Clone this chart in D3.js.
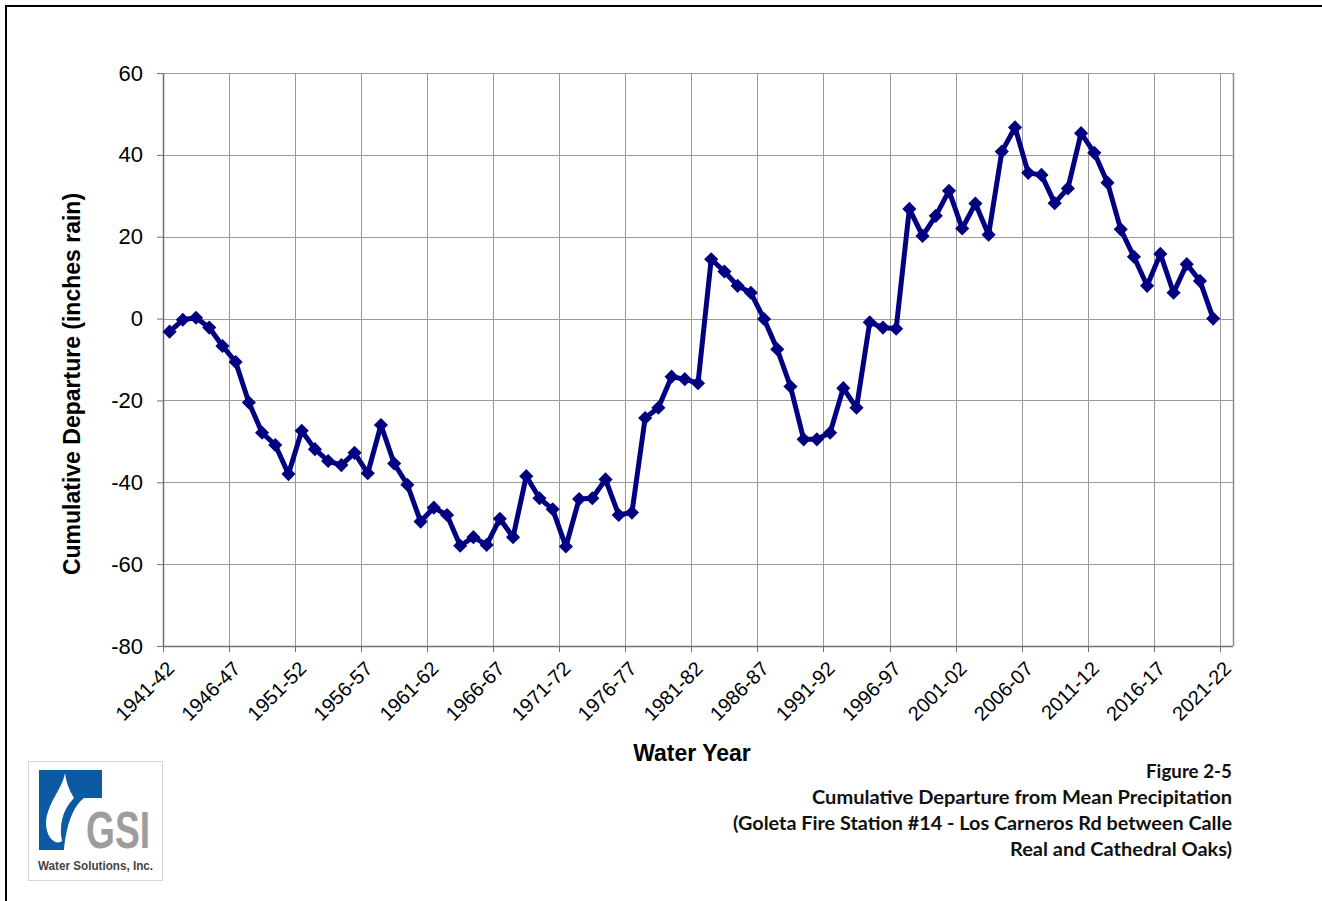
<!DOCTYPE html>
<html>
<head>
<meta charset="utf-8">
<script src="https://cdn.jsdelivr.net/npm/d3@7"></script>
<style>
  body { margin: 0; background: #fff; }
  svg { display: block; }
</style>
</head>
<body>
<div id="chart"></div>
<script>
// Water years on the category axis
var waterYears = ["1941-42","1942-43","1943-44","1944-45","1945-46","1946-47","1947-48","1948-49","1949-50","1950-51",
  "1951-52","1952-53","1953-54","1954-55","1955-56","1956-57","1957-58","1958-59","1959-60","1960-61",
  "1961-62","1962-63","1963-64","1964-65","1965-66","1966-67","1967-68","1968-69","1969-70","1970-71",
  "1971-72","1972-73","1973-74","1974-75","1975-76","1976-77","1977-78","1978-79","1979-80","1980-81",
  "1981-82","1982-83","1983-84","1984-85","1985-86","1986-87","1987-88","1988-89","1989-90","1990-91",
  "1991-92","1992-93","1993-94","1994-95","1995-96","1996-97","1997-98","1998-99","1999-00","2000-01",
  "2001-02","2002-03","2003-04","2004-05","2005-06","2006-07","2007-08","2008-09","2009-10","2010-11",
  "2011-12","2012-13","2013-14","2014-15","2015-16","2016-17","2017-18","2018-19","2019-20","2020-21",
  "2021-22"];

// cumulative departure (inches)
var departure = [-3.2,-0.3,0.2,-2.2,-6.7,-10.6,-20.5,-27.9,-30.9,-38.0,
  -27.4,-31.9,-34.8,-35.8,-32.8,-37.8,-26.0,-35.4,-40.6,-49.6,
  -46.2,-48.0,-55.5,-53.4,-55.3,-48.9,-53.4,-38.5,-43.9,-46.6,
  -55.7,-44.1,-43.9,-39.3,-48.0,-47.4,-24.3,-21.8,-14.2,-14.8,
  -15.8,14.5,11.5,8.0,6.3,-0.1,-7.5,-16.6,-29.5,-29.5,
  -27.9,-17.0,-21.8,-0.9,-2.2,-2.5,26.8,20.2,25.1,31.2,
  22.0,28.1,20.5,40.8,46.7,35.6,35.1,28.2,31.8,45.3,
  40.5,33.2,21.8,15.1,8.0,15.8,6.3,13.3,9.2,0.0];

var yTicks = [-80, -60, -40, -20, 0, 20, 40, 60];
var captionLines = ["Figure 2-5",
  "Cumulative Departure from Mean Precipitation",
  "(Goleta Fire Station #14 - Los Carneros Rd between Calle",
  "Real and Cathedral Oaks)"];

var svgWidth = 1322;
var svgHeight = 901;
var plot = { left: 163, right: 1233, top: 73, bottom: 646 };

var svg = d3.select("#chart")
  .append("svg")
  .attr("width", svgWidth)
  .attr("height", svgHeight);

// page frame
svg.append("rect")
  .attr("x", 6).attr("y", 6)
  .attr("width", 1340).attr("height", 920)
  .attr("fill", "none")
  .attr("stroke", "#000")
  .attr("stroke-width", 2);

var x = d3.scaleBand()
  .domain(waterYears)
  .range([plot.left, plot.right])
  .padding(0);

var y = d3.scaleLinear()
  .domain([-80, 60])
  .range([plot.bottom, plot.top]);

var every5 = waterYears.filter((d, i) => i % 5 === 0);

// gridlines
var grid = svg.append("g");
grid.selectAll(".hgrid")
  .data(yTicks)
  .enter()
  .append("line")
  .attr("x1", plot.left).attr("x2", plot.right)
  .attr("y1", d => Math.round(y(d)) + 0.5)
  .attr("y2", d => Math.round(y(d)) + 0.5)
  .attr("stroke", "#9a9a9a")
  .attr("stroke-width", 1);

grid.selectAll(".vgrid")
  .data(every5.slice(1))
  .enter()
  .append("line")
  .attr("x1", d => Math.round(x(d)) + 0.5)
  .attr("x2", d => Math.round(x(d)) + 0.5)
  .attr("y1", plot.top).attr("y2", plot.bottom)
  .attr("stroke", "#9a9a9a")
  .attr("stroke-width", 1);

// right border
grid.append("line")
  .attr("x1", plot.right + 0.5).attr("x2", plot.right + 0.5)
  .attr("y1", plot.top).attr("y2", plot.bottom)
  .attr("stroke", "#8a8a8a")
  .attr("stroke-width", 1.5);

// y axis
var leftAxis = d3.axisLeft(y)
  .tickValues(yTicks)
  .tickFormat(d => String(d))
  .tickSizeInner(6)
  .tickSizeOuter(0)
  .tickPadding(14);

var yAxis = svg.append("g")
  .attr("transform", `translate(${plot.left}, 0)`)
  .call(leftAxis);
yAxis.select(".domain").attr("stroke", "#707070").attr("stroke-width", 1.5);
yAxis.selectAll(".tick line").attr("stroke", "#707070");
yAxis.selectAll(".tick text")
  .attr("font-family", "Liberation Sans, Arial, sans-serif")
  .attr("font-size", "22px")
  .attr("fill", "#000");

// x axis: ticks on category boundaries, labels every 5 years
var xAxis = svg.append("g");
xAxis.append("line")
  .attr("x1", plot.left).attr("x2", plot.right)
  .attr("y1", plot.bottom + 0.5).attr("y2", plot.bottom + 0.5)
  .attr("stroke", "#707070")
  .attr("stroke-width", 1.5);

xAxis.selectAll(".xtick")
  .data(every5)
  .enter()
  .append("line")
  .attr("x1", d => Math.round(x(d)) + 0.5)
  .attr("x2", d => Math.round(x(d)) + 0.5)
  .attr("y1", plot.bottom).attr("y2", plot.bottom + 6)
  .attr("stroke", "#707070");

xAxis.selectAll(".xlabel")
  .data(every5)
  .enter()
  .append("text")
  .attr("transform", d => `translate(${x(d) + x.bandwidth() / 2 + 6}, ${plot.bottom + 24}) rotate(-45)`)
  .attr("text-anchor", "end")
  .attr("font-family", "Liberation Sans, Arial, sans-serif")
  .attr("font-size", "20px")
  .attr("fill", "#000")
  .text(d => d);

// axis titles
svg.append("text")
  .attr("transform", `translate(80, 384) rotate(-90)`)
  .attr("text-anchor", "middle")
  .attr("font-family", "Liberation Sans, Arial, sans-serif")
  .attr("font-weight", "bold")
  .attr("font-size", "23px")
  .text("Cumulative Departure (inches rain)");

svg.append("text")
  .attr("x", 692)
  .attr("y", 761)
  .attr("text-anchor", "middle")
  .attr("font-family", "Liberation Sans, Arial, sans-serif")
  .attr("font-weight", "bold")
  .attr("font-size", "23px")
  .text("Water Year");

// series
var points = departure.map((v, i) => ({ year: waterYears[i], value: v }));

var line = d3.line()
  .x(d => x(d.year) + x.bandwidth() / 2)
  .y(d => y(d.value));

svg.append("path")
  .datum(points)
  .attr("d", line)
  .attr("fill", "none")
  .attr("stroke", "#000080")
  .attr("stroke-width", 5)
  .attr("stroke-linejoin", "round");

svg.selectAll(".marker")
  .data(points)
  .enter()
  .append("path")
  .attr("d", d3.symbol(d3.symbolSquare, 100))
  .attr("transform", d => `translate(${x(d.year) + x.bandwidth() / 2}, ${y(d.value)}) rotate(45)`)
  .attr("fill", "#000080");

// caption
var captionWidths = [86, 420, 499, 222];
svg.append("g").selectAll("text")
  .data(captionLines)
  .enter()
  .append("text")
  .attr("x", 1232)
  .attr("y", (d, i) => 778 + i * 26)
  .attr("text-anchor", "end")
  .attr("font-family", "Lato, 'Open Sans', sans-serif")
  .attr("font-weight", "bold")
  .attr("font-size", "18px")
  .attr("textLength", (d, i) => captionWidths[i])
  .attr("lengthAdjust", "spacingAndGlyphs")
  .attr("fill", "#111")
  .text(d => d);

// GSI logo
var logo = svg.append("g");
logo.append("rect")
  .attr("x", 28.5).attr("y", 761.5)
  .attr("width", 134).attr("height", 119)
  .attr("fill", "#fff")
  .attr("stroke", "#d6d6d6");
logo.append("path")
  .attr("d", "M39,770 H102 V798 H84 C73,806 66,826 64,850 H39 Z")
  .attr("fill", "#0b5aa2");
logo.append("path")
  .attr("d", "M65,773 C62,790 47,803 46,823 C46,838 56,846 62,841 C59,826 62,810 74,798 C69,790 66,782 65,773 Z")
  .attr("fill", "#fff");
logo.append("text")
  .attr("x", 86).attr("y", 848)
  .attr("font-family", "Liberation Sans, Arial, sans-serif")
  .attr("font-weight", "bold")
  .attr("font-size", "52px")
  .attr("textLength", 64)
  .attr("lengthAdjust", "spacingAndGlyphs")
  .attr("fill", "#9d9d9d")
  .text("GSI");
logo.append("text")
  .attr("x", 38).attr("y", 870)
  .attr("font-family", "Liberation Sans, Arial, sans-serif")
  .attr("font-weight", "bold")
  .attr("font-size", "13px")
  .attr("textLength", 115)
  .attr("lengthAdjust", "spacingAndGlyphs")
  .attr("fill", "#444")
  .text("Water Solutions, Inc.");
</script>
</body>
</html>
